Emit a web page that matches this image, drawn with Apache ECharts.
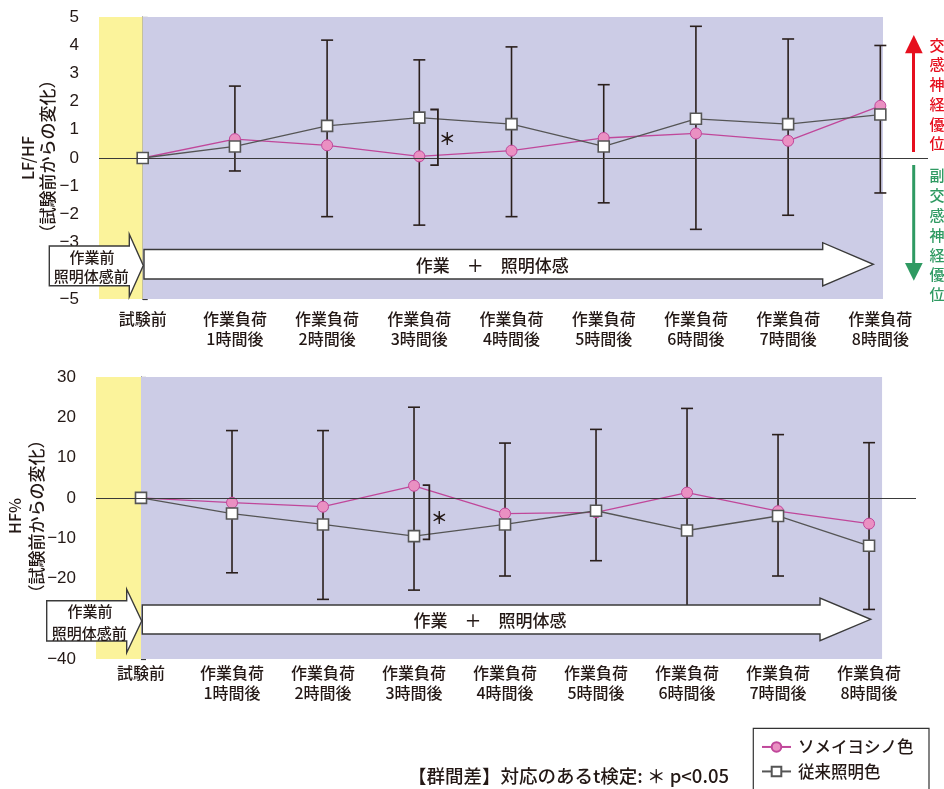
<!DOCTYPE html>
<html><head><meta charset="utf-8">
<script src="https://cdn.jsdelivr.net/npm/echarts@6/dist/echarts.min.js"></script>
<style>html,body{margin:0;padding:0;background:#fff}#c{width:944px;height:789px}</style>
</head><body><div id="c"></div>
<script>
// ---- data ----
const categories = ['試験前','作業負荷\n1時間後','作業負荷\n2時間後','作業負荷\n3時間後','作業負荷\n4時間後','作業負荷\n5時間後','作業負荷\n6時間後','作業負荷\n7時間後','作業負荷\n8時間後'];
const seriesNames = ['ソメイヨシノ色','従来照明色'];
const lfhfSomei = [0, 0.67, 0.45, 0.06, 0.26, 0.71, 0.87, 0.61, 1.85];
const lfhfConv  = [0, 0.41, 1.14, 1.43, 1.20, 0.41, 1.39, 1.20, 1.54];
const lfhfErrHigh = [null, 2.55, 4.18, 3.48, 3.94, 2.60, 4.67, 4.22, 3.99];
const lfhfErrLow  = [null, -0.46, -2.08, -2.38, -2.08, -1.59, -2.53, -2.03, -1.24];
const hfSomei = [0, -1.2, -2.2, 3.0, -3.9, -3.6, 1.3, -3.3, -6.4];
const hfConv  = [0, -3.9, -6.6, -9.5, -6.6, -3.2, -8.1, -4.5, -11.9];
const hfErrHigh = [null, 16.7, 16.7, 22.5, 13.6, 17.0, 22.2, 15.7, 13.7];
const hfErrLow  = [null, -18.6, -25.2, -22.9, -19.4, -15.6, -30, -19.4, -27.7];
const lfhfTicks = [-5,-4,-3,-2,-1,0,1,2,3,4,5];
const hfTicks = [-40,-30,-20,-10,0,10,20,30];
const sigLfhf = [[3, 1.72, -0.25]];
const sigHf = [[3, 3.17, -10.29]];
const yNameTop = ['LF/HF','（試験前からの変化）'];
const yNameBottom = ['HF%','（試験前からの変化）'];
const phaseLabels = ['作業前','照明体感前','作業　＋　照明体感'];
const sideUp = '交感神経優位';
const sideDown = '副交感神経優位';
const footnote = '【群間差】対応のあるt検定: ＊ p<0.05';

// ---- styles ----
const JP = '"Noto Sans CJK JP", sans-serif';
const NUM = '"Liberation Sans", Arial, sans-serif';
const INK = '#231815';
const PINK_LINE = '#c0479a', PINK_FILL = '#ea90c2', GRAY = '#555555';
const YELLOW = '#fbf39b', PURPLE = '#cccce6';
const W = '500 ';

const pair = (arr) => arr.map((v, i) => [i, v]);
const errData = (lo, hi) => lo.map((v, i) => v == null ? null : [i, v, hi[i]]).filter(Boolean);
const minusFmt = v => v < 0 ? '\u2212' + Math.abs(v) : String(v);

function errRender(params, api) {
  const x = api.value(0);
  const lo = api.coord([x, api.value(1)]);
  const hi = api.coord([x, api.value(2)]);
  const c = 6;
  const st = {stroke: '#2a1f1c', lineWidth: 1.6};
  return {type: 'group', children: [
    {type: 'line', shape: {x1: hi[0], y1: hi[1], x2: lo[0], y2: lo[1]}, style: st},
    {type: 'line', shape: {x1: hi[0]-c, y1: hi[1], x2: hi[0]+c, y2: hi[1]}, style: st},
    {type: 'line', shape: {x1: lo[0]-c, y1: lo[1], x2: lo[0]+c, y2: lo[1]}, style: st}
  ]};
}
function bracketRender(off, tick, starDx, starDy) {
  return function(params, api) {
    const x = api.value(0);
    const t = api.coord([x, api.value(1)]);
    const b = api.coord([x, api.value(2)]);
    const bx = t[0] + off;
    return {type: 'group', children: [
      {type: 'polyline', shape: {points: [[bx-tick, t[1]], [bx, t[1]], [bx, b[1]], [bx-tick, b[1]]]},
       style: {stroke: '#2a1f1c', lineWidth: 1.8, fill: null}},
      {type: 'text', x: bx + starDx, y: (t[1]+b[1])/2 + starDy,
       style: {text: '＊', font: 'bold 17px ' + JP, fill: INK, textAlign: 'center', textVerticalAlign: 'middle'}}
    ]};
  };
}

function xAxisCfg(gi, min, max, margin) {
  return {
    type: 'value', gridIndex: gi, min: min, max: max,
    axisLine: {show: false}, axisTick: {show: false}, splitLine: {show: false},
    axisLabel: {customValues: categories.map((c, i) => i), formatter: v => categories[Math.round(v)],
      margin: margin, fontSize: 16, fontWeight: 500, lineHeight: 20, fontFamily: JP, color: INK, align: 'center'}
  };
}
function yAxisCfg(gi, min, max, interval) {
  return {
    type: 'value', gridIndex: gi, min: min, max: max, interval: interval,
    axisLine: {show: true, lineStyle: {color: '#3a3a3a', width: 1.2}},
    axisTick: {show: true, inside: true, length: 5, lineStyle: {color: '#3a3a3a', width: 1.2}},
    splitLine: {show: false},
    axisLabel: {formatter: minusFmt, margin: 20, fontSize: 17, fontFamily: NUM, color: INK}
  };
}
function bgSeries(idx, xmin, xsplit, xend) {
  return {
    type: 'line', xAxisIndex: idx, yAxisIndex: idx, data: [], z: 1, silent: true,
    markArea: {silent: true, data: [
      [{xAxis: xmin, itemStyle: {color: YELLOW}}, {xAxis: xsplit}],
      [{xAxis: xsplit, itemStyle: {color: PURPLE}}, {xAxis: xend}]
    ]},
    markLine: {silent: true, symbol: 'none', label: {show: false},
      lineStyle: {color: '#3a3a3a', width: 1.2, type: 'solid'}, data: [{yAxis: 0}]}
  };
}
function lineSeries(name, idx, data, isCircle) {
  return {
    name: name, type: 'line', xAxisIndex: idx, yAxisIndex: idx, data: pair(data), z: isCircle ? 3 : 4,
    symbol: isCircle ? 'circle' : 'rect', symbolSize: 11,
    lineStyle: {color: isCircle ? PINK_LINE : GRAY, width: 1.3},
    itemStyle: isCircle ? {color: PINK_FILL, borderColor: PINK_LINE, borderWidth: 1}
                        : {color: '#ffffff', borderColor: GRAY, borderWidth: 1.6},
    emphasis: {disabled: true}
  };
}

function arrowBig(x0, top, bot, headTop, headBot, baseX, tipX) {
  const cy = (headTop + headBot) / 2;
  return [[x0, top], [baseX, top], [baseX, headTop], [tipX, cy], [baseX, headBot], [baseX, bot], [x0, bot]];
}
const arrowStyle = {fill: '#ffffff', stroke: '#3a3a3a', lineWidth: 1.4};
function txt(x, y, text, font, fill, extra) {
  return Object.assign({type: 'text', x: x, y: y, z: 110,
    style: {text: text, font: font, fill: fill || INK, textAlign: 'center', textVerticalAlign: 'middle'}}, extra || {});
}

const graphics = [
  // top chart arrows
  {type: 'polygon', z: 100, shape: {points: arrowBig(144, 249.5, 279, 242.7, 286, 822.7, 873.3)}, style: arrowStyle},
  {type: 'polygon', z: 101, shape: {points: arrowBig(49.3, 246, 285.7, 234.3, 296.7, 129.3, 143.3)}, style: arrowStyle},
  txt(92, 257.7, phaseLabels[0], W + '15px ' + JP),
  txt(91.3, 276.7, phaseLabels[1], W + '15px ' + JP),
  txt(492.3, 266, phaseLabels[2], W + '17px ' + JP),
  // bottom chart arrows
  {type: 'polygon', z: 100, shape: {points: arrowBig(142.3, 605, 634, 598, 640.7, 820, 870.7)}, style: arrowStyle},
  {type: 'polygon', z: 101, shape: {points: arrowBig(46.7, 600.7, 641, 589.3, 652.7, 126.7, 141.7)}, style: arrowStyle},
  txt(90, 611.7, phaseLabels[0], W + '15px ' + JP),
  txt(89.2, 633.3, phaseLabels[1], W + '15px ' + JP),
  txt(490, 620.7, phaseLabels[2], W + '17px ' + JP),
  // y axis names
  txt(28, 158, yNameTop[0], W + '16px ' + JP, INK, {rotation: Math.PI/2}),
  txt(48, 156.5, yNameTop[1], W + '17px ' + JP, INK, {rotation: Math.PI/2}),
  txt(15, 516, yNameBottom[0], W + '16px ' + JP, INK, {rotation: Math.PI/2}),
  txt(37, 516.5, yNameBottom[1], W + '17px ' + JP, INK, {rotation: Math.PI/2}),
  // side arrows
  {type: 'line', z: 100, shape: {x1: 913.5, y1: 152, x2: 913.5, y2: 50}, style: {stroke: '#e60f1e', lineWidth: 3}},
  {type: 'polygon', z: 100, shape: {points: [[905, 53.3], [922.7, 53.3], [913.8, 35]]}, style: {fill: '#e60f1e'}},
  {type: 'line', z: 100, shape: {x1: 913.7, y1: 165, x2: 913.7, y2: 266}, style: {stroke: '#2f9a62', lineWidth: 3}},
  {type: 'polygon', z: 100, shape: {points: [[905, 263], [922.7, 263], [913.8, 280.7]]}, style: {fill: '#2f9a62'}},
  {type: 'text', z: 110, x: 937, y: 35.2, style: {text: sideUp.split('').join('\n'), font: W + '15px ' + JP,
    lineHeight: 19.7, fill: '#e60f1e', textAlign: 'center', textVerticalAlign: 'top'}},
  {type: 'text', z: 110, x: 937, y: 165.8, style: {text: sideDown.split('').join('\n'), font: W + '15px ' + JP,
    lineHeight: 19.8, fill: '#2f9a62', textAlign: 'center', textVerticalAlign: 'top'}},
  // footnote
  {type: 'text', z: 110, x: 729, y: 775.7, style: {text: footnote, font: W + '18.5px ' + JP, fill: INK,
    textAlign: 'right', textVerticalAlign: 'middle'}},
  // legend frame
  {type: 'rect', z: 1, shape: {x: 753.3, y: 728.3, width: 175.7, height: 80},
    style: {fill: 'transparent', stroke: '#333', lineWidth: 1.2}}
];

const chart = echarts.init(document.getElementById('c'), null, {renderer: 'canvas'});
chart.setOption({
  animation: false,
  backgroundColor: '#ffffff',
  grid: [
    {left: 99, top: 17, width: 829, height: 282},
    {left: 96, top: 377, width: 820, height: 282}
  ],
  xAxis: [xAxisCfg(0, -0.474, 8.517, 10), xAxisCfg(1, -0.4945, 8.516, 4)],
  yAxis: [yAxisCfg(0, -5, 5, 1), yAxisCfg(1, -40, 30, 10)],
  legend: {
    data: seriesNames, orient: 'vertical', left: 761, top: 738.7,
    padding: 0, itemGap: 8, itemWidth: 29, itemHeight: 12,
    textStyle: {fontSize: 16.5, fontWeight: 500, fontFamily: JP, color: INK, lineHeight: 16, padding: [0, 0, 0, 2]},
    selectedMode: false
  },
  graphic: graphics,
  series: [
    bgSeries(0, -0.474, 0, 8.029),
    bgSeries(1, -0.4945, 0, 8.143),
    {type: 'custom', xAxisIndex: 0, yAxisIndex: 0, z: 2, renderItem: errRender, data: errData(lfhfErrLow, lfhfErrHigh), silent: true},
    {type: 'custom', xAxisIndex: 1, yAxisIndex: 1, z: 2, renderItem: errRender, data: errData(hfErrLow, hfErrHigh), silent: true},
    lineSeries(seriesNames[0], 0, lfhfSomei, true),
    lineSeries(seriesNames[1], 0, lfhfConv, false),
    lineSeries(seriesNames[0], 1, hfSomei, true),
    lineSeries(seriesNames[1], 1, hfConv, false),
    {type: 'custom', xAxisIndex: 0, yAxisIndex: 0, z: 5, renderItem: bracketRender(18.6, 7.6, 9.4, 1), data: sigLfhf, silent: true},
    {type: 'custom', xAxisIndex: 1, yAxisIndex: 1, z: 5, renderItem: bracketRender(15.3, 6.6, 10, 5), data: sigHf, silent: true}
  ]
});
</script></body></html>
